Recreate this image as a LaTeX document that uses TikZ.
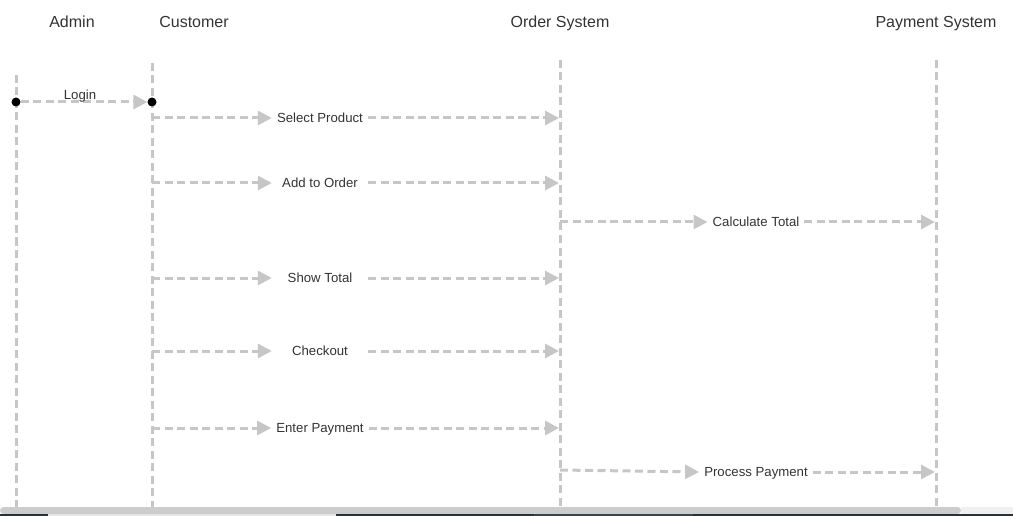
\documentclass[tikz,border=0pt]{standalone}
\usepackage{fontspec}
\setmainfont{Liberation Sans}
\usetikzlibrary{arrows.meta}
\definecolor{lline}{HTML}{C6C6C6}
\definecolor{ltext}{HTML}{333333}
\definecolor{barDark}{HTML}{263238}
\definecolor{barMid}{HTML}{37474F}
\tikzset{
  lifeline/.style={draw=lline, line width=3pt, dash pattern=on 8pt off 4.5pt},
  msgline/.style={lifeline, -{Triangle[length=14pt,width=14pt]}},
  msg/.style={text=ltext, font=\fontsize{13.2}{15}\selectfont, minimum width=96pt, inner xsep=5pt, inner ysep=0pt, text height=9.5pt, text depth=0pt},
  actor/.style={text=ltext, font=\fontsize{16}{19}\selectfont, text height=11.5pt, text depth=0pt, inner sep=0pt},
  dot/.style={circle, fill, inner sep=0pt, minimum size=9pt}
}
\begin{document}
\begin{tikzpicture}[x=1pt, y=-1pt]
\useasboundingbox (0,0) rectangle (1013,516);
\node[actor] (admin) at (72,22) {Admin};
\node[actor] (customer) at (194,22) {Customer};
\node[actor] (order) at (560,22) {Order System};
\node[actor] (payment) at (936,22) {Payment System};
\coordinate (adminT) at (16,75);
\coordinate (adminB) at (16,508);
\coordinate (customerT) at (152,63);
\coordinate (customerB) at (152,508);
\coordinate (orderT) at (560,60);
\coordinate (orderB) at (560,508);
\coordinate (paymentT) at (936,60);
\coordinate (paymentB) at (936,508);
\draw[lifeline](adminT) -- (adminB);
\draw[lifeline](customerT) -- (customerB);
\draw[lifeline](orderT) -- (orderB);
\draw[lifeline](paymentT) -- (paymentB);
\node[dot] (login0) at (16,102){};
\node[dot] (login1) at (152,102){};
\draw[msgline](login0) -- (login1);
\node[msg] (login) at (80,95) {Login};
\coordinate (m1s) at (152,118);
\node[msg] (m1) at (320,118) {Select Product};
\coordinate (m1t) at (559,118);
\draw[msgline](m1s) -- (m1.west);
\draw[msgline](m1.east) -- (m1t);
\coordinate (m2s) at (152,183);
\node[msg] (m2) at (320,183) {Add to Order};
\coordinate (m2t) at (559,183);
\draw[msgline](m2s) -- (m2.west);
\draw[msgline](m2.east) -- (m2t);
\coordinate (m3s) at (560,222);
\node[msg] (m3) at (756,222) {Calculate Total};
\coordinate (m3t) at (935,222);
\draw[msgline](m3s) -- (m3.west);
\draw[msgline](m3.east) -- (m3t);
\coordinate (m4s) at (152,278);
\node[msg] (m4) at (320,278) {Show Total};
\coordinate (m4t) at (559,278);
\draw[msgline](m4s) -- (m4.west);
\draw[msgline](m4.east) -- (m4t);
\coordinate (m5s) at (152,351);
\node[msg] (m5) at (320,351) {Checkout};
\coordinate (m5t) at (559,351);
\draw[msgline](m5s) -- (m5.west);
\draw[msgline](m5.east) -- (m5t);
\coordinate (m6s) at (152,428);
\node[msg] (m6) at (320,428) {Enter Payment};
\coordinate (m6t) at (559,428);
\draw[msgline](m6s) -- (m6.west);
\draw[msgline](m6.east) -- (m6t);
\coordinate (m7s) at (560,470);
\node[msg] (m7) at (756,472) {Process Payment};
\coordinate (m7t) at (935,472);
\draw[msgline](m7s) -- (m7.west);
\draw[msgline](m7.east) -- (m7t);
\fill[black!6] (961,507) rectangle (1013,514);
\fill[black!20, rounded corners=3.5pt] (0,507) rectangle (961,514);
\fill[barDark] (0,514) rectangle (1013,516);
\fill[white!90!black] (48,514) rectangle (336,516);
\fill[barMid] (534,514) rectangle (693,516);
\end{tikzpicture}
\end{document}
